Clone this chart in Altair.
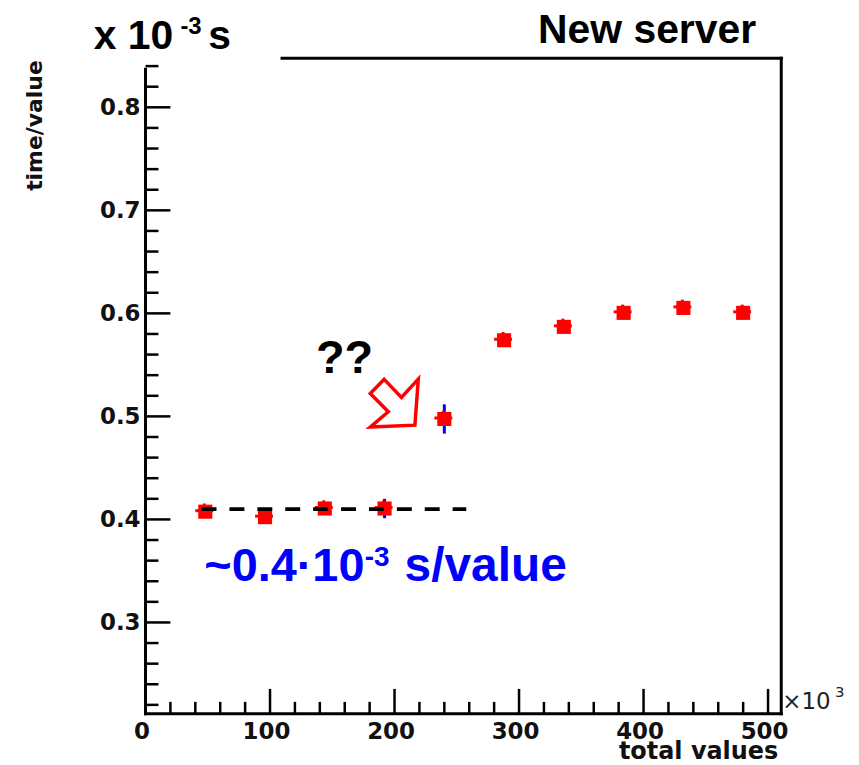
import altair as alt
import pandas as pd

# ---------------- data ----------------
total_values = [48, 96, 144, 192, 240, 288, 336, 384, 432, 480]          # x 10^3
time_per_value = [0.4075, 0.4022, 0.4106, 0.4106, 0.4975,
                  0.5739, 0.5869, 0.6005, 0.6053, 0.6005]                 # x 10^-3 s
x_err = [6.4, 6.4, 6.4, 6.4, 6.4, 6.4, 6.4, 6.4, 6.4, 6.4]
y_err_red = [0.008, 0.008, 0.008, 0.008, 0.008, 0.008, 0.008, 0.008, 0.008, 0.008]
y_err_blue = [0.0, 0.0, 0.0, 0.0094, 0.0142, 0.0, 0.0, 0.0, 0.0, 0.0]

x_major = [0, 100, 200, 300, 400, 500]
x_minor = [20, 40, 60, 80, 120, 140, 160, 180, 220, 240, 260, 280,
           320, 340, 360, 380, 420, 440, 460, 480]
y_major = [0.3, 0.4, 0.5, 0.6, 0.7, 0.8]
y_minor = [0.22, 0.24, 0.26, 0.28, 0.32, 0.34, 0.36, 0.38, 0.42, 0.44, 0.46, 0.48,
           0.52, 0.54, 0.56, 0.58, 0.62, 0.64, 0.66, 0.68, 0.72, 0.74, 0.76, 0.78,
           0.82, 0.84]

fit_level = [0.41]
fit_from = [45]
fit_to = [257.6]

arrow_x = [199.8]
arrow_y = [0.5129]

x_domain = [0, 510.6]
y_domain = [0.2113, 0.8477]

title_text = "New server"
unit_main, unit_sup, unit_end = "x 10", "-3", "s"
question_text = "??"
note_main, note_sup, note_end = "~0.4\u00b710", "-3", "s/value"
y_title = "time/value"
x_title = "total values"
x_mult_main, x_mult_sup = "\u00d710", "3"

# ---------------- layout ----------------
W, H = 638, 658
LABEL_FONT = "DejaVu Sans"
ANNOT_FONT = "Liberation Sans"

xs = alt.Scale(domain=x_domain, nice=False, zero=False)
ys = alt.Scale(domain=y_domain, nice=False, zero=False)

x_axis = alt.Axis(values=x_major, ticks=False, tickSize=0, domain=False, grid=False,
                  title=None, labelFont=LABEL_FONT, labelFontWeight="bold",
                  labelFontSize=23, labelColor="#111", labelPadding=25,
                  labelBaseline="alphabetic", labelOffset=-4, labelFlush=False,
                  labelOverlap=False, format="d")
y_axis = alt.Axis(values=y_major, ticks=False, tickSize=0, domain=False, grid=False,
                  title=None, labelFont=LABEL_FONT, labelFontWeight="bold",
                  labelFontSize=23, labelColor="#111", labelPadding=5.5,
                  labelBaseline="middle", labelFlush=False, labelOverlap=False,
                  format=".1f")

pts = pd.DataFrame({"x": total_values, "y": time_per_value,
                    "ex": x_err, "ey": y_err_red, "eb": y_err_blue})
pts["xlo"] = pts["x"] - pts["ex"]
pts["xhi"] = pts["x"] + pts["ex"]
pts["ylo"] = pts["y"] - pts["ey"]
pts["yhi"] = pts["y"] + pts["ey"]
pts["blo"] = pts["y"] - pts["eb"]
pts["bhi"] = pts["y"] + pts["eb"]

X = lambda f: alt.X(f, scale=xs, axis=x_axis)
Y = lambda f: alt.Y(f, scale=ys, axis=y_axis)

base = alt.Chart(pts)

blue_bars = base.transform_filter("datum.eb > 0").mark_rule(
    color="#0000ff", strokeWidth=3).encode(x=X("x:Q"), y=Y("blo:Q"), y2="bhi:Q")
red_h = base.mark_rule(color="#ff0000", strokeWidth=3, xOffset=-2, yOffset=-1).encode(
    x=X("xlo:Q"), x2="xhi:Q", y=Y("y:Q"))
red_v = base.mark_rule(color="#ff0000", strokeWidth=3, xOffset=-1, yOffset=-2).encode(
    x=X("x:Q"), y=Y("ylo:Q"), y2="yhi:Q")
markers = base.mark_point(shape="square", filled=True, size=200, color="#ff0000",
                          opacity=1).encode(x=X("x:Q"), y=Y("y:Q"))

fit = alt.Chart(pd.DataFrame({"a": fit_from, "b": fit_to, "y": fit_level})).mark_rule(
    color="black", strokeWidth=4, strokeDash=[15, 13]).encode(
    x=X("a:Q"), x2="b:Q", y=Y("y:Q"))

arrow_path = "M-0.42,-0.99L0.3,-0.24L1,-1L0.86,0.92L-1,1L-0.25,0.36L-1,-0.4Z"
arrow = alt.Chart(pd.DataFrame({"x": arrow_x, "y": arrow_y})).mark_point(
    shape=arrow_path, size=2320, filled=False, stroke="#ff0000", strokeWidth=3.5,
    strokeJoin="miter", opacity=1).encode(x=X("x:Q"), y=Y("y:Q"))

# axis ticks drawn inward (ROOT style)
tick_x_major = alt.Chart(pd.DataFrame({"v": x_major})).mark_rule(
    color="black", strokeWidth=2.5).encode(x=X("v:Q"), y=alt.value(H), y2=alt.value(H - 25))
tick_x_minor = alt.Chart(pd.DataFrame({"v": x_minor})).mark_rule(
    color="black", strokeWidth=2.5).encode(x=X("v:Q"), y=alt.value(H), y2=alt.value(H - 12))
tick_y_major = alt.Chart(pd.DataFrame({"v": y_major})).mark_rule(
    color="black", strokeWidth=2.5).encode(y=Y("v:Q"), x=alt.value(0), x2=alt.value(25))
tick_y_minor = alt.Chart(pd.DataFrame({"v": y_minor})).mark_rule(
    color="black", strokeWidth=2.5).encode(y=Y("v:Q"), x=alt.value(0), x2=alt.value(13))

one = pd.DataFrame({"k": [0]})
frame_style = dict(color="black", strokeWidth=3, strokeCap="square")
frame = (
    alt.Chart(one).mark_rule(**frame_style).encode(x=alt.value(0), y=alt.value(11), y2=alt.value(H))
    + alt.Chart(one).mark_rule(**frame_style).encode(x=alt.value(137), x2=alt.value(W), y=alt.value(0))
    + alt.Chart(one).mark_rule(**frame_style).encode(x=alt.value(W), y=alt.value(0), y2=alt.value(H))
    + alt.Chart(one).mark_rule(**frame_style).encode(x=alt.value(0), x2=alt.value(W), y=alt.value(H))
)


def txt(s, x, y, size, font=ANNOT_FONT, weight="bold", color="black",
        align="left", baseline="alphabetic", angle=0):
    return alt.Chart(pd.DataFrame({"t": [s]})).mark_text(
        align=align, baseline=baseline, font=font, fontSize=size,
        fontWeight=weight, color=color, angle=angle).encode(
        text="t:N", x=alt.value(x), y=alt.value(y))


texts = [
    txt(title_text, 394, -15.5, 41),
    txt(unit_main, -52, -9, 41),
    txt(unit_sup, 35, -24, 24),
    txt(unit_end, 63, -9, 41),
    txt(question_text, 171, 316, 47),
    txt(note_main, 59, 525, 47, color="#0000ff"),
    txt(note_sup, 220, 509.5, 28, color="#0000ff"),
    txt(note_end, 260, 525, 48, color="#0000ff"),
    txt(y_title, -104, 2, 22, font=LABEL_FONT, align="right", angle=270, color="#111"),
    txt(x_title, 635, 703, 24, font=LABEL_FONT, align="right", color="#111"),
    txt(x_mult_main, 639, 653.5, 23, font=LABEL_FONT, weight="normal", color="#222"),
    txt(x_mult_sup, 692, 641, 15, font=LABEL_FONT, weight="normal", color="#222"),
]

chart = alt.layer(
    tick_x_major, tick_x_minor, tick_y_major, tick_y_minor,
    blue_bars, red_h, red_v, markers, fit, arrow, frame, *texts
).properties(
    width=W, height=H,
    autosize=alt.AutoSizeParams(type="none"),
    padding={"left": 138, "top": 49, "right": 70, "bottom": 50},
    background="white",
).configure_view(stroke=None)

chart.save("out.html", embed_options={"renderer": "svg", "actions": False})
